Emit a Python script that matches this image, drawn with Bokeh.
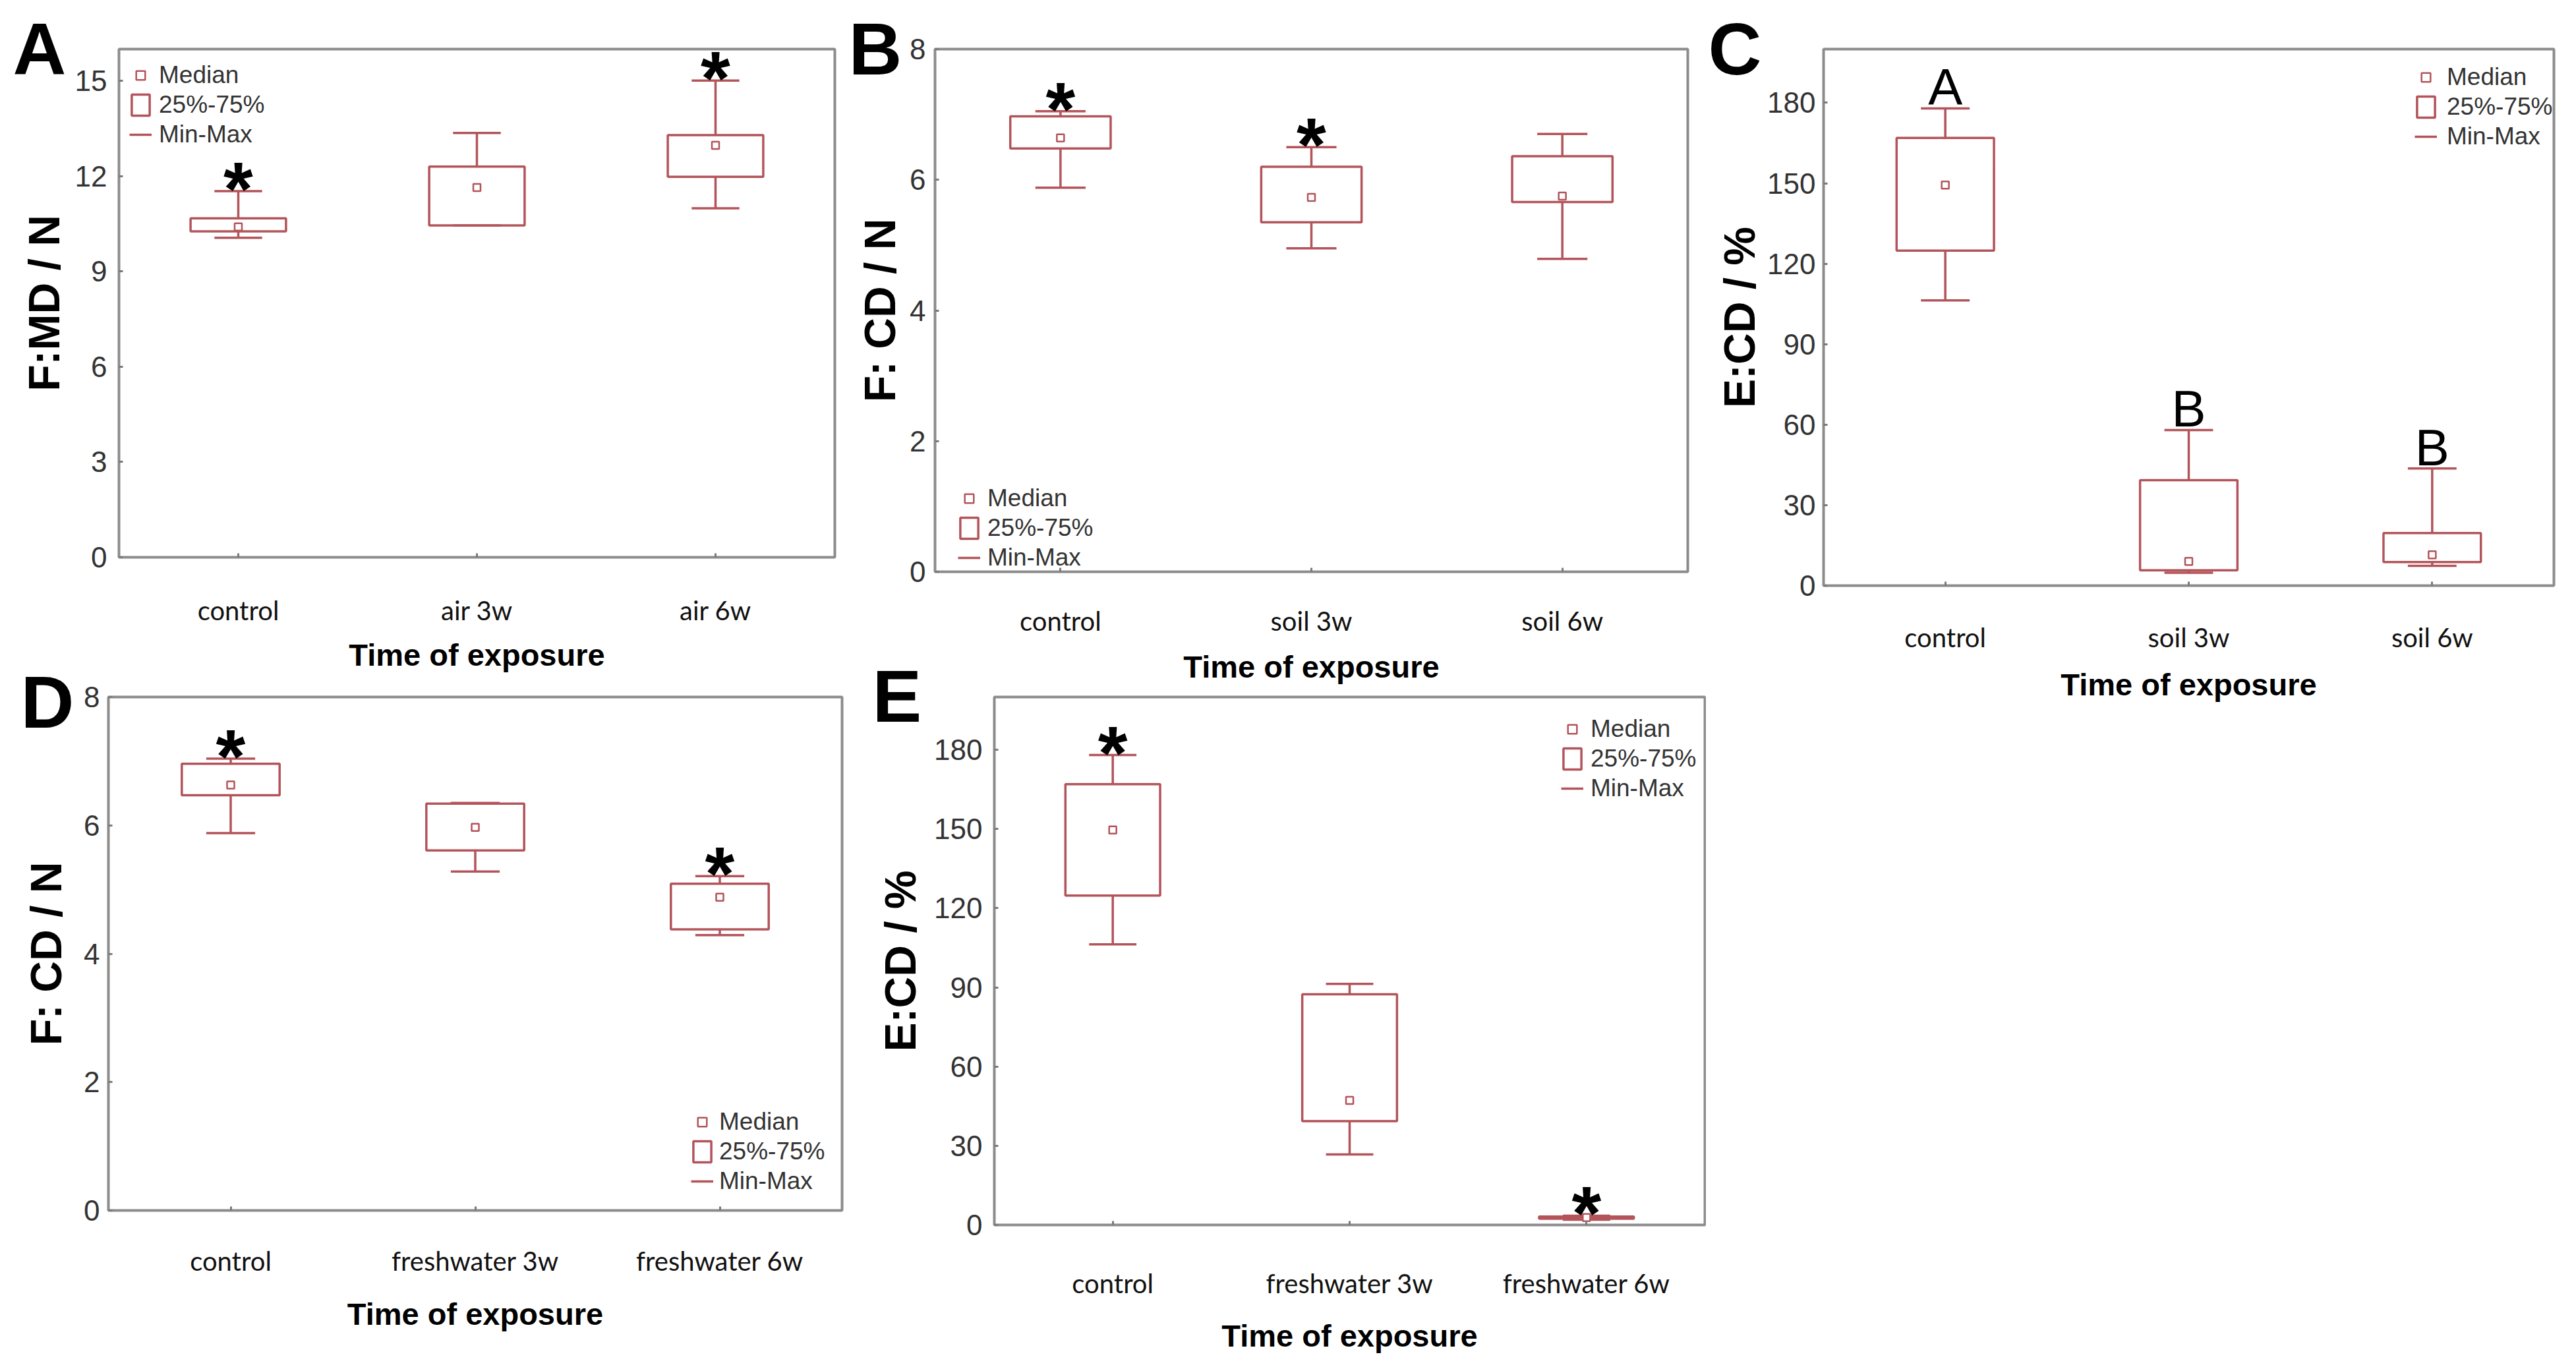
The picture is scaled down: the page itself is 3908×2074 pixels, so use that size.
from bokeh.plotting import figure
from bokeh.models import (Range1d, FixedTicker, LinearAxis, Legend, LegendItem,
                          ColumnDataSource)
from bokeh.layouts import row, column
from bokeh.embed import file_html
from bokeh.resources import INLINE
from bokeh.core.properties import value

RED = "#b3545a"
FRAME = "#8c8c8c"
TICK = "#7a7a7a"

# ---------------- data ----------------
a_cats = ["control", "air 3w", "air 6w"]
a_min = [10.06, 10.45, 10.99]
a_q1 = [10.26, 10.45, 11.98]
a_med = [10.40, 11.64, 12.97]
a_q3 = [10.67, 12.30, 13.29]
a_max = [11.53, 13.36, 15.01]
a_sig = ["*", "", "*"]
a_yticks = [0, 3, 6, 9, 12, 15]

b_cats = ["control", "soil 3w", "soil 6w"]
b_min = [5.88, 4.95, 4.79]
b_q1 = [6.48, 5.35, 5.66]
b_med = [6.64, 5.73, 5.75]
b_q3 = [6.97, 6.20, 6.36]
b_max = [7.05, 6.50, 6.70]
b_sig = ["*", "*", ""]
b_yticks = [0, 2, 4, 6, 8]

c_cats = ["control", "soil 3w", "soil 6w"]
c_min = [106.3, 4.8, 7.4]
c_q1 = [124.9, 5.7, 8.8]
c_med = [149.3, 9.0, 11.5]
c_q3 = [166.9, 39.3, 19.6]
c_max = [177.9, 58.0, 43.7]
c_sig = ["A", "B", "B"]
c_yticks = [0, 30, 60, 90, 120, 150, 180]

d_cats = ["control", "freshwater 3w", "freshwater 6w"]
d_min = [5.88, 5.28, 4.29]
d_q1 = [6.47, 5.61, 4.38]
d_med = [6.63, 5.97, 4.88]
d_q3 = [6.96, 6.34, 5.09]
d_max = [7.04, 6.35, 5.21]
d_sig = ["*", "", "*"]
d_yticks = [0, 2, 4, 6, 8]

e_cats = ["control", "freshwater 3w", "freshwater 6w"]
e_min = [106.3, 26.7, 2.0]
e_q1 = [124.8, 39.3, 2.4]
e_med = [149.6, 47.2, 2.8]
e_q3 = [167.0, 87.4, 3.2]
e_max = [178.0, 91.3, 3.5]
e_sig = ["*", "", "*"]
e_yticks = [0, 30, 60, 90, 120, 150, 180]

legend_labels = ["Median", "25%-75%", "Min-Max"]
x_title = "Time of exposure"

LETTER_FONT = dict(font="Liberation Sans", style="bold", size="112px")


def make_panel(cats, vmin, q1, med, q3, vmax, sig, ymax, yticks, ylabel, letter,
               w, h, borders, leg_xy, leg_standoff, xstand, xlstand, ystand,
               ylstand, letter_mode, letter_arg, sig_letters=False,
               top_margin=0):
    bl, br, bt, bb = borders
    p = figure(width=w, height=h, output_backend="svg", toolbar_location=None,
               x_range=Range1d(0.5, len(cats) + 0.5), y_range=Range1d(0, ymax),
               min_border_left=bl, min_border_right=br, min_border_top=bt,
               min_border_bottom=bb)
    p.frame_align = False
    p.background_fill_color = "white"
    if top_margin:
        # this panel's canvas overlaps the one above it: keep its border clear
        p.margin = (top_margin, 0, 0, 0)
        p.border_fill_color = None
    else:
        p.border_fill_color = "white"
    p.outline_line_color = FRAME
    p.outline_line_width = 4
    p.xgrid.visible = False
    p.ygrid.visible = False

    xs = list(range(1, len(cats) + 1))
    src = ColumnDataSource(dict(
        x=xs, vmin=vmin, q1=q1, med=med, q3=q3, vmax=vmax, sig=sig,
        c0=[x - 0.1 for x in xs], c1=[x + 0.1 for x in xs]))

    box = p.vbar(x="x", width=0.4, top="q3", bottom="q1", source=src,
                 fill_color=None, line_color=RED, line_width=3.5)
    p.segment(x0="x", x1="x", y0="q3", y1="vmax", source=src,
              line_color=RED, line_width=3.5)
    p.segment(x0="x", x1="x", y0="vmin", y1="q1", source=src,
              line_color=RED, line_width=3.5)
    cap = p.segment(x0="c0", x1="c1", y0="vmax", y1="vmax", source=src,
                    line_color=RED, line_width=3.5)
    p.segment(x0="c0", x1="c1", y0="vmin", y1="vmin", source=src,
              line_color=RED, line_width=3.5)
    medr = p.scatter(x="x", y="med", source=src, marker="square", size=11,
                     fill_color="white", line_color=RED, line_width=2.5)

    if sig_letters:
        p.text(x="x", y="vmax", text="sig", source=src,
               text_font=value("Liberation Sans"), text_font_size="78px",
               text_align="center", text_baseline="middle", y_offset=-32,
               text_color="black")
    else:
        p.text(x="x", y="vmax", text="sig", source=src,
               text_font=value("Liberation Sans"), text_font_style="bold",
               text_font_size="115px", text_align="center",
               text_baseline="middle", y_offset=-4, text_color="black")

    # axes
    xax = p.xaxis[0]
    xax.ticker = FixedTicker(ticks=xs)
    xax.major_label_overrides = {x: c for x, c in zip(xs, cats)}
    xax.major_label_text_font = "Lato"
    xax.major_label_text_font_size = "40px"
    xax.major_label_text_color = "#111111"
    xax.major_label_standoff = xstand
    xax.axis_label = x_title
    xax.axis_label_text_font = "Liberation Sans"
    xax.axis_label_text_font_style = "bold"
    xax.axis_label_text_font_size = "47px"
    xax.axis_label_text_color = "black"
    xax.axis_label_standoff = xlstand

    yax = p.yaxis[0]
    yax.ticker = FixedTicker(ticks=yticks)
    yax.major_label_text_font = "Liberation Sans"
    yax.major_label_text_font_size = "44px"
    yax.major_label_text_color = "#333333"
    yax.major_label_standoff = ystand
    yax.axis_label = ylabel
    yax.axis_label_text_font = "Liberation Sans"
    yax.axis_label_text_font_style = "bold"
    yax.axis_label_text_font_size = "66px"
    yax.axis_label_text_color = "black"
    yax.axis_label_standoff = ylstand

    for ax in (xax, yax):
        ax.axis_line_color = None
        ax.major_tick_in = 6
        ax.major_tick_out = 0
        ax.major_tick_line_color = TICK
        ax.major_tick_line_width = 3
        ax.minor_tick_line_color = None

    if letter_mode == "axis":
        # panel letter as the single tick label of an outer left axis
        lax = LinearAxis(ticker=FixedTicker(ticks=[ymax]),
                         major_label_overrides={ymax: letter})
        lax.major_label_text_font = LETTER_FONT["font"]
        lax.major_label_text_font_style = LETTER_FONT["style"]
        lax.major_label_text_font_size = LETTER_FONT["size"]
        lax.major_label_text_color = "black"
        lax.major_label_standoff = letter_arg[0]
        lax.axis_line_color = None
        lax.major_tick_line_color = None
        lax.minor_tick_line_color = None
        lax.major_tick_in = 0
        lax.major_tick_out = 0
        p.add_layout(lax, "left")
    else:
        # panel letter as the plot title, pulled down to the frame's corner
        p.title.text = letter
        p.title.align = "left"
        p.title.vertical_align = "bottom"
        p.title.offset = letter_arg[0]
        p.title.standoff = letter_arg[1]
        p.title.text_font = LETTER_FONT["font"]
        p.title.text_font_style = LETTER_FONT["style"]
        p.title.text_font_size = LETTER_FONT["size"]
        p.title.text_color = "black"

    legend = Legend(items=[
        LegendItem(label=legend_labels[0], renderers=[medr]),
        LegendItem(label=legend_labels[1], renderers=[box]),
        LegendItem(label=legend_labels[2], renderers=[cap]),
    ], location=leg_xy)
    legend.glyph_width = 34
    legend.glyph_height = 40
    legend.label_height = 40
    legend.spacing = 3
    legend.padding = 0
    legend.margin = 0
    legend.border_line_color = None
    legend.background_fill_alpha = 0
    legend.label_text_font = "Liberation Sans"
    legend.label_text_font_size = "37px"
    legend.label_text_color = "#333333"
    legend.label_standoff = leg_standoff
    p.add_layout(legend)
    return p


pA = make_panel(a_cats, a_min, a_q1, a_med, a_q3, a_max, a_sig, 16, a_yticks,
                "F:MD / N", "A", 1282, 1022, (180, 16, 74, 172), (16, 620), 11,
                56, 14, 18, 7, "axis", (-74,))
pD = make_panel(d_cats, d_min, d_q1, d_med, d_q3, d_max, d_sig, 8, d_yticks,
                "F: CD / N", "D", 1282, 1081, (164, 5, 80, 222), (884, 23), 9,
                52, 27, 13, 17, "title", (-133, -140), top_margin=-45)
pB = make_panel(b_cats, b_min, b_q1, b_med, b_q3, b_max, b_sig, 8, b_yticks,
                "F: CD / N", "B", 1306, 1040, (136, 28, 74, 167), (35, 0), 11,
                50, 16, 14, 5, "axis", (-73,))
pE = make_panel(e_cats, e_min, e_q1, e_med, e_q3, e_max, e_sig, 200, e_yticks,
                "E:CD / %", "E", 1306, 1086, (226, 2, 85, 200), (860, 641), 11,
                64, 26, 18, 11, "title", (-185, -122), top_margin=-68)
pC = make_panel(c_cats, c_min, c_q1, c_med, c_q3, c_max, c_sig, 200, c_yticks,
                "E:CD / %", "C", 1304, 1070, (175, 18, 74, 182), (897, 660), 15,
                54, 18, 12, 2, "axis", (-73,), sig_letters=True)

layout = row(column(pA, pD), column(pB, pE), pC)
open("out.html", "w").write(file_html(layout, INLINE))
